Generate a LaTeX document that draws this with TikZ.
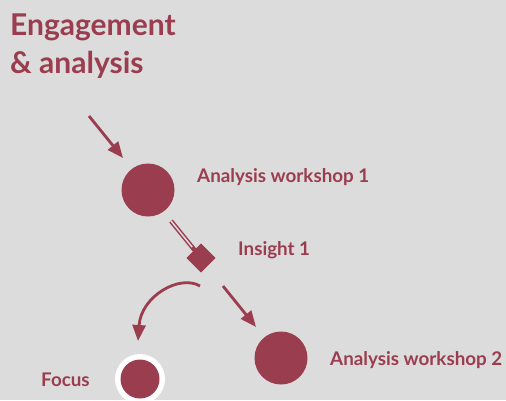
\documentclass[tikz,border=0pt]{standalone}
\usepackage{fontspec}
\setmainfont{Lato}
\usetikzlibrary{arrows.meta,shapes.geometric}
\definecolor{bg}{HTML}{DCDCDC}
\definecolor{mar}{HTML}{9A3D4F}
\begin{document}
\begin{tikzpicture}[x=1pt,y=-1pt,
  dot/.style={circle,fill=mar,minimum size=53pt,inner sep=0pt},
  lbl/.style={text=mar,font=\bfseries\fontsize{18.8}{22}\selectfont,anchor=base west,inner sep=0pt},
  ttl/.style={text=mar,font=\bfseries\fontsize{30}{34}\selectfont,anchor=base west,inner sep=0pt},
  arr/.style={draw=mar,line width=2.8pt,-{Triangle[length=16pt,width=13pt]}}]
\fill[bg] (0,0) rectangle (506,400);
\useasboundingbox (0,0) rectangle (506,400);
\node[ttl] (t1) at (10,35) {Engagement};
\node[ttl] (t2) at (10,73) {\& analysis};
\coordinate (s1) at (89,116);
\coordinate (e1) at (123,158);
\draw[arr] (s1) -- (e1);
\node[dot] (w1) at (148,190) {};
\node[lbl] (l1) at (197,182.5) {Analysis workshop 1};
\node[diamond,fill=mar,minimum size=29pt,inner sep=0pt] (d) at (201,258) {};
\coordinate (ds) at (171,221);
\draw[mar,line width=4.5pt] (ds) -- (d.center);
\draw[bg,line width=1.5pt,shorten >=14pt] (ds) -- (d.center);
\node[diamond,fill=mar,minimum size=29pt,inner sep=0pt] at (d) {};
\node[lbl] (l2) at (238,255) {Insight 1};
\coordinate (cs) at (200,286);
\coordinate (ce) at (138,341);
\draw[arr] (cs) .. controls (180,274) and (141,296) .. (ce);
\coordinate (as) at (223,286);
\coordinate (ae) at (256,327);
\draw[arr] (as) -- (ae);
\node[dot] (w2) at (281,358) {};
\node[lbl] (l3) at (330,365) {Analysis workshop 2};
\node[circle,fill=white,minimum size=50pt,inner sep=0pt] (f) at (140,379) {};
\node[circle,fill=mar,minimum size=39pt,inner sep=0pt] at (f) {};
\node[lbl] (l4) at (41,386.5) {Focus};
\end{tikzpicture}
\end{document}
